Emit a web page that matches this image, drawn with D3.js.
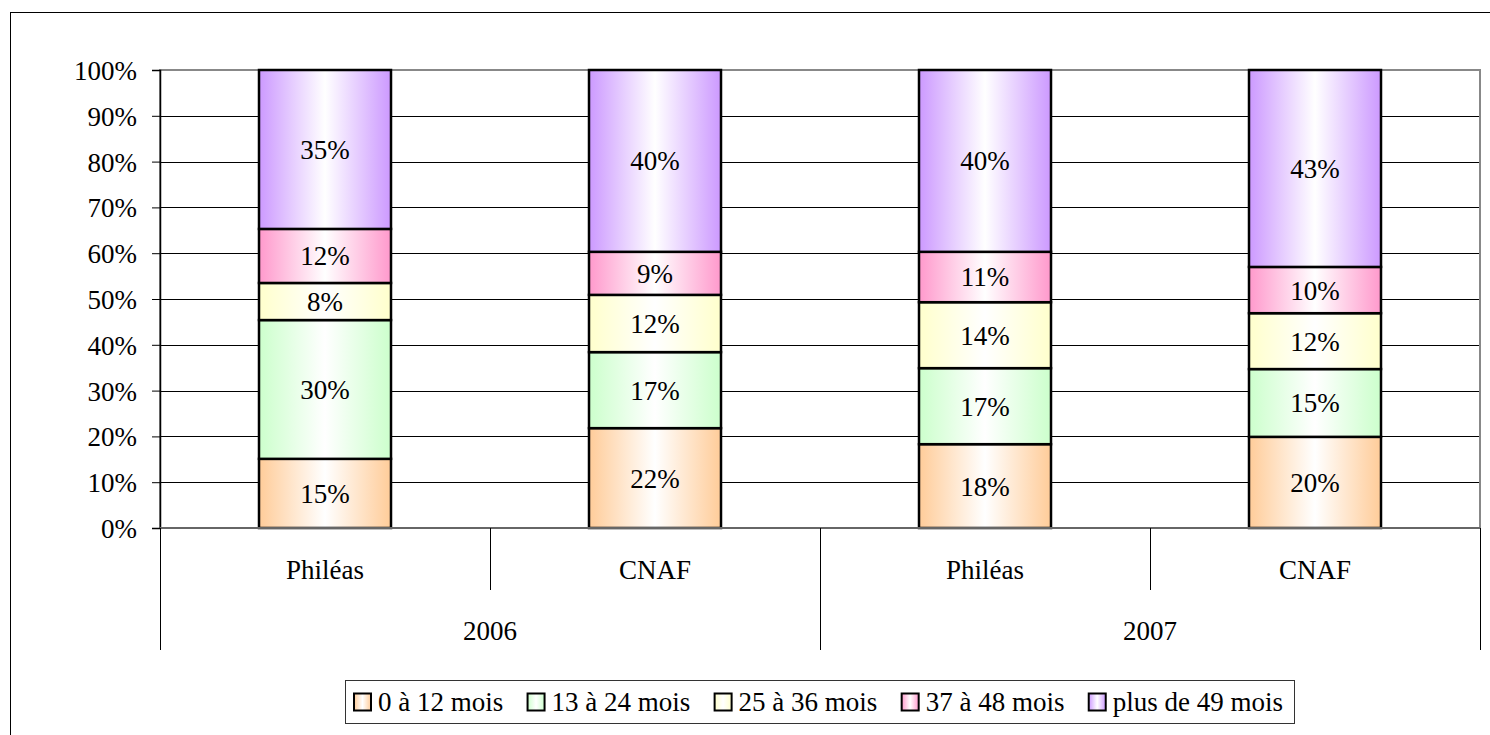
<!DOCTYPE html>
<html><head><meta charset="utf-8">
<script src="https://cdn.jsdelivr.net/npm/d3@7"></script>
<style>body{margin:0;background:#fff;} svg{display:block;} svg text{font-family:"Liberation Serif","DejaVu Serif",serif !important;fill:#000;}</style>
</head><body>
<script>
const groups = ["2006", "2007"];
const categories = ["Philéas", "CNAF", "Philéas", "CNAF"];
const seriesNames = ["0 à 12 mois", "13 à 24 mois", "25 à 36 mois", "37 à 48 mois", "plus de 49 mois"];
const s0 = [15.1, 21.8, 18.3, 19.9];
const s1 = [30.3, 16.6, 16.6, 14.8];
const s2 = [8.1, 12.5, 14.4, 12.2];
const s3 = [11.8, 9.4, 11.0, 10.1];
const s4 = [34.7, 39.7, 39.7, 43.0];
const seriesLabels = [[15,22,18,20],[30,17,17,15],[8,12,14,12],[12,9,11,10],[35,40,40,43]];
const seriesColors = ["#ffcc99", "#ccffcc", "#ffffcc", "#ff99cc", "#cc99ff"];
const yTicks = [0,10,20,30,40,50,60,70,80,90,100];

(function(){
const W = 1490, H = 735, FS = "27px";
const svg = d3.select("body").append("svg").attr("width", W).attr("height", H);
const defs = svg.append("defs");
seriesColors.forEach((c, i) => {
  const g = defs.append("linearGradient").attr("id", "g" + i).attr("x1", "0%").attr("x2", "100%").attr("y1", "0%").attr("y2", "0%");
  g.append("stop").attr("offset", "0%").attr("stop-color", c);
  g.append("stop").attr("offset", "50%").attr("stop-color", "#ffffff");
  g.append("stop").attr("offset", "100%").attr("stop-color", c);
});

// outer border
svg.append("rect").attr("x", 10.5).attr("y", 12.5).attr("width", W).attr("height", H).attr("fill", "none").attr("stroke", "#000").attr("stroke-width", 1);

const pLeft = 160, pRight = 1480, pTop = 70, pBottom = 528;
const x = d3.scaleBand().domain(d3.range(categories.length)).range([pLeft, pRight]).paddingInner(0).paddingOuter(0);
const y = d3.scaleLinear().domain([0, 100]).range([pBottom, pTop]);

// gridlines
svg.append("g").selectAll("line").data(yTicks.filter(t => t > 0 && t < 100)).join("line")
  .attr("x1", pLeft).attr("x2", pRight).attr("y1", d => Math.round(y(d)) + 0.5).attr("y2", d => Math.round(y(d)) + 0.5)
  .attr("stroke", "#000").attr("stroke-width", 1);
// plot border (grey)
svg.append("rect").attr("x", pLeft).attr("y", pTop).attr("width", pRight - pLeft).attr("height", pBottom - pTop)
  .attr("fill", "none").attr("stroke", "#888").attr("stroke-width", 2);

// y axis
const yAxis = d3.axisLeft(y).tickValues(yTicks).tickFormat(d => d + "%").tickSize(8).tickPadding(15);
const ya = svg.append("g").attr("transform", `translate(${pLeft},0)`).call(yAxis);
ya.attr("font-family", null).attr("font-size", null);
ya.select(".domain").attr("stroke", "#000").attr("stroke-width", 1.5);
ya.selectAll(".tick line").attr("stroke", "#000");
ya.selectAll(".tick text").style("font-size", FS).attr("dy", "0.35em");

// bars
const series = [s0, s1, s2, s3, s4];
const stackData = categories.map((c, i) => { const o = {i}; series.forEach((s, k) => o["k" + k] = s[i]); return o; });
const stack = d3.stack().keys(series.map((_, k) => "k" + k))(stackData);
const bw = x.bandwidth() * 0.4;
const barG = svg.append("g");
stack.forEach((layer, k) => {
  const g = barG.append("g");
  g.selectAll("rect").data(layer).join("rect")
    .attr("x", (d, i) => x(i) + (x.bandwidth() - bw) / 2)
    .attr("y", d => y(d[1]))
    .attr("width", bw)
    .attr("height", d => y(d[0]) - y(d[1]))
    .attr("fill", `url(#g${k})`).attr("stroke", "#000").attr("stroke-width", 2.5);
  g.selectAll("text").data(layer).join("text")
    .attr("x", (d, i) => x(i) + x.bandwidth() / 2)
    .attr("y", d => (y(d[0]) + y(d[1])) / 2)
    .attr("dy", "0.35em").attr("text-anchor", "middle").style("font-size", FS)
    .text((d, i) => seriesLabels[k][i] + "%");
});

// category axis
const ax = svg.append("g");
ax.append("line").attr("x1", pLeft).attr("x2", pRight).attr("y1", pBottom).attr("y2", pBottom).attr("stroke", "#666").attr("stroke-width", 2);
const sepLines = [
  {xv: pLeft, y2: 650}, {xv: x(1), y2: 590}, {xv: x(2), y2: 650}, {xv: x(3), y2: 590}, {xv: pRight, y2: 650}
];
ax.selectAll("line.sep").data(sepLines).join("line").attr("class", "sep")
  .attr("x1", d => Math.round(d.xv) + 0.5).attr("x2", d => Math.round(d.xv) + 0.5)
  .attr("y1", pBottom).attr("y2", d => d.y2).attr("stroke", "#000").attr("stroke-width", 1);
ax.selectAll("text.cat").data(categories).join("text").attr("class", "cat")
  .attr("x", (d, i) => x(i) + x.bandwidth() / 2).attr("y", 570).attr("dy", "0.35em")
  .attr("text-anchor", "middle").style("font-size", FS).text(d => d);
ax.selectAll("text.grp").data(groups).join("text").attr("class", "grp")
  .attr("x", (d, i) => (x(i * 2) + x(i * 2 + 1) + x.bandwidth()) / 2).attr("y", 631).attr("dy", "0.35em")
  .attr("text-anchor", "middle").style("font-size", FS).text(d => d);

// legend
const lg = svg.append("g");
lg.append("rect").attr("x", 345.5).attr("y", 680.5).attr("width", 949).attr("height", 43)
  .attr("fill", "#fff").attr("stroke", "#333").attr("stroke-width", 1);
const texts = seriesNames.map(n => lg.append("text").attr("y", 702).attr("dy", "0.35em").style("font-size", FS).text(n));
const widths = texts.map(t => t.node().getComputedTextLength());
const startX = 353, endX = 1283, sw = 17, tGap = 25;
const gap = (endX - startX - 5 * tGap - d3.sum(widths)) / 4;
let lx = startX;
seriesNames.forEach((n, k) => {
  lg.append("rect").attr("x", lx + 1).attr("y", 693.5).attr("width", sw).attr("height", sw)
    .attr("fill", `url(#g${k})`).attr("stroke", "#000").attr("stroke-width", 2);
  texts[k].attr("x", lx + tGap);
  lx += tGap + widths[k] + gap;
});
})();
</script>
</body></html>
